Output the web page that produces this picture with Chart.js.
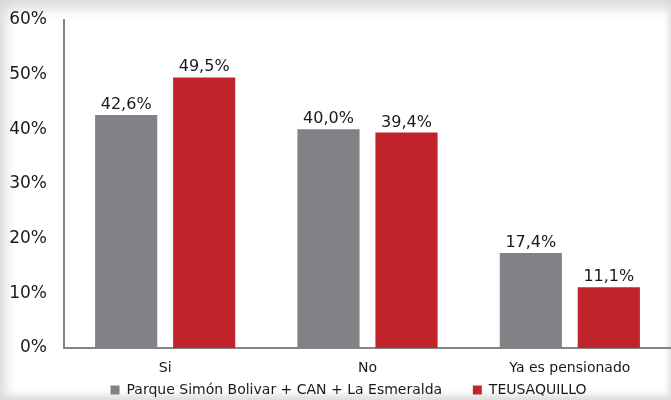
<!DOCTYPE html>
<html>
<head>
<meta charset="utf-8">
<script src="https://cdn.jsdelivr.net/npm/chart.js@4/dist/chart.umd.min.js"></script>
<style>
  html, body { margin: 0; padding: 0; background: #fff; }
  #wrap {
    position: relative; width: 671px; height: 400px; background: #fff;
    box-shadow: inset 0 16px 14px -8px #d9d9d9, inset 14px 0 12px -8px #dcdcdc,
                inset 0 -9px 6px -4px #dedede, inset -6px 0 5px -3px #e6e6e6;
  }
  canvas { position: absolute; left: 0; top: 0; }
</style>
</head>
<body>
<div id="wrap"><canvas id="chart" width="671" height="400"></canvas></div>
<script>
var categories = ['Si', 'No', 'Ya es pensionado'];
var parqueValues = [42.6, 40.0, 17.4];
var teusaquilloValues = [49.5, 39.4, 11.1];
var seriesNames = ['Parque Simón Bolivar + CAN + La Esmeralda', 'TEUSAQUILLO'];
var yTicks = [0, 10, 20, 30, 40, 50, 60];

var FONT = '"DejaVu Sans", Verdana, sans-serif';

var valueLabels = {
  id: 'valueLabels',
  afterDatasetsDraw: function (chart) {
    var ctx = chart.ctx;
    ctx.save();
    ctx.font = '16px ' + FONT;
    ctx.fillStyle = '#1a1a1a';
    ctx.textAlign = 'center';
    ctx.textBaseline = 'alphabetic';
    chart.data.datasets.forEach(function (ds, i) {
      chart.getDatasetMeta(i).data.forEach(function (bar, j) {
        ctx.fillText(ds.data[j].toFixed(1).replace('.', ',') + '%', bar.x, bar.y - 6);
      });
    });
    ctx.restore();
  }
};

// nudge the legend a bit to the right, like the original
var legendShift = {
  id: 'legendShift',
  afterLayout: function (chart) {
    chart.legend.left += 18;
  }
};

new Chart(document.getElementById('chart').getContext('2d'), {
  type: 'bar',
  data: {
    labels: categories,
    datasets: [{
      label: seriesNames[0],
      data: parqueValues,
      backgroundColor: '#818286'
    }, {
      label: seriesNames[1],
      data: teusaquilloValues,
      backgroundColor: '#c1232b'
    }]
  },
  options: {
    responsive: false,
    animation: false,
    categoryPercentage: 0.771,
    barPercentage: 0.797,
    layout: { padding: { top: 20, right: -8, left: 0, bottom: -7 } },
    plugins: {
      legend: {
        position: 'bottom',
        labels: {
          boxWidth: 9, boxHeight: 9, padding: 4,
          color: '#1a1a1a',
          font: { family: FONT, size: 14 },
          generateLabels: function (chart) {
            var items = Chart.defaults.plugins.legend.labels.generateLabels(chart);
            items[0].text = items[0].text + '      ';
            items.forEach(function (it) { it.lineWidth = 0; });
            return items;
          }
        }
      },
      tooltip: { enabled: false }
    },
    scales: {
      x: {
        afterFit: function (scale) { scale.height = 31; },
        grid: { display: false, drawTicks: false },
        border: { color: '#858585', width: 2 },
        ticks: { color: '#1a1a1a', padding: 12, font: { family: FONT, size: 14 } }
      },
      y: {
        min: 0, max: 60,
        afterBuildTicks: function (scale) {
          scale.ticks = yTicks.map(function (v) { return { value: v }; });
        },
        afterFit: function (scale) {
          scale.width = 64;
          scale.paddingTop = 0;
          scale.paddingBottom = 0;
        },
        grid: { display: false, drawTicks: false },
        border: { color: '#858585', width: 2 },
        ticks: {
          color: '#1a1a1a', padding: 17,
          font: { family: FONT, size: 17 },
          callback: function (v) { return v + '%'; }
        }
      }
    }
  },
  plugins: [valueLabels, legendShift]
});
</script>
</body>
</html>
